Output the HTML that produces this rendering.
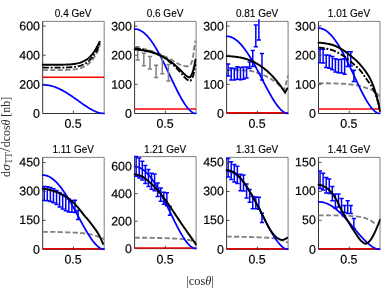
<!DOCTYPE html>
<html><head><meta charset="utf-8"><title>plot</title>
<style>html,body{margin:0;padding:0;background:#fff;overflow:hidden}svg{display:block;will-change:transform;transform:translateZ(0)}.tk{font-family:"Liberation Sans",sans-serif;font-size:12.4px;fill:#000;stroke:#000;stroke-width:0.18px}.tt{font-family:"Liberation Sans",sans-serif;font-size:10px;fill:#000;stroke:#000;stroke-width:0.12px}.ax{font-family:"Liberation Serif",serif;font-size:12.4px;fill:#2a2a2a}</style></head><body>
<svg width="382" height="288" viewBox="0 0 382 288">
<rect x="0" y="0" width="382" height="288" fill="#fff"/>
<g>
<clipPath id="c0"><rect x="41.4" y="18.4" width="63.4" height="96.3"/></clipPath>
<path d="M42.7 21.4H104.2V113.5" fill="none" stroke="#707070" stroke-width="0.9"/>
<path d="M42.7 21.4V113.5H104.2" fill="none" stroke="#343434" stroke-width="1"/>
<g clip-path="url(#c0)" fill="none" stroke-linejoin="round">
<polyline points="42.7,70.07 43.67,70.07 44.64,70.07 45.61,70.07 46.57,70.07 47.54,70.07 48.51,70.07 49.48,70.07 50.45,70.07 51.42,70.07 52.38,70.07 53.35,70.07 54.32,70.07 55.29,70.07 56.26,70.07 57.23,70.07 58.19,70.07 59.16,70.07 60.13,70.07 61.1,70.07 62.07,70.06 63.04,70.05 64,70.03 64.97,70 65.94,69.97 66.91,69.93 67.88,69.9 68.85,69.85 69.81,69.79 70.78,69.72 71.75,69.65 72.72,69.56 73.69,69.46 74.66,69.33 75.62,69.18 76.59,69 77.56,68.8 78.53,68.58 79.5,68.34 80.47,68.08 81.43,67.76 82.4,67.41 83.37,67 84.34,66.55 85.31,66.05 86.28,65.47 87.24,64.8 88.21,64.05 89.18,63.22 90.15,62.33 91.12,61.37 92.09,60.26 93.05,58.96 94.02,57.53 94.99,56.05 95.96,54.52 96.93,52.83 97.9,50.86 98.87,48.52 99.83,45.87" stroke="#808080" stroke-width="1.85" stroke-dasharray="5.1 2.4"/>
<line x1="42.7" y1="77.21" x2="104.2" y2="77.21" stroke="#ff0000" stroke-width="1.45"/>
<polyline points="42.7,84.79 43.47,84.8 44.24,84.82 45.01,84.87 45.78,84.93 46.54,85.01 47.31,85.11 48.08,85.23 48.85,85.36 49.62,85.51 50.39,85.68 51.16,85.86 51.93,86.06 52.69,86.28 53.46,86.52 54.23,86.77 55,87.04 55.77,87.32 56.54,87.62 57.31,87.94 58.08,88.26 58.84,88.61 59.61,88.97 60.38,89.34 61.15,89.72 61.92,90.12 62.69,90.53 63.46,90.96 64.23,91.39 64.99,91.84 65.76,92.29 66.53,92.76 67.3,93.24 68.07,93.73 68.84,94.22 69.61,94.73 70.38,95.24 71.14,95.76 71.91,96.28 72.68,96.81 73.45,97.35 74.22,97.89 74.99,98.43 75.76,98.98 76.53,99.53 77.29,100.08 78.06,100.63 78.83,101.19 79.6,101.74 80.37,102.29 81.14,102.84 81.91,103.38 82.68,103.92 83.44,104.46 84.21,104.99 84.98,105.52 85.75,106.03 86.52,106.54 87.29,107.04 88.06,107.53 88.83,108 89.59,108.47 90.36,108.92 91.13,109.36 91.9,109.78 92.67,110.18 93.44,110.57 94.21,110.94 94.98,111.29 95.74,111.62 96.51,111.92 97.28,112.21 98.05,112.46 98.82,112.7 99.59,112.9 100.36,113.08 101.12,113.23 101.89,113.34 102.66,113.43 103.43,113.48 104.2,113.5" stroke="#0000ff" stroke-width="1.75" stroke-linecap="round"/>
<polyline points="42.7,67.59 43.67,67.59 44.64,67.59 45.61,67.59 46.58,67.59 47.55,67.59 48.52,67.59 49.49,67.59 50.46,67.59 51.42,67.59 52.39,67.59 53.36,67.59 54.33,67.59 55.3,67.59 56.27,67.59 57.24,67.59 58.21,67.59 59.18,67.59 60.15,67.59 61.12,67.59 62.09,67.58 63.06,67.57 64.03,67.55 65,67.52 65.97,67.49 66.94,67.46 67.9,67.42 68.87,67.37 69.84,67.31 70.81,67.24 71.78,67.16 72.75,67.08 73.72,66.98 74.69,66.85 75.66,66.7 76.63,66.52 77.6,66.32 78.57,66.1 79.54,65.86 80.51,65.59 81.48,65.27 82.45,64.91 83.42,64.51 84.38,64.05 85.35,63.55 86.32,62.95 87.29,62.25 88.26,61.47 89.23,60.61 90.2,59.68 91.17,58.69 92.14,57.53 93.11,56.17 94.08,54.69 95.05,53.19 96.02,51.68 96.99,50.05 97.96,48.19 98.93,46.05 99.9,43.69" stroke="#000000" stroke-width="1.85" stroke-dasharray="6.2 1.8 1.9 1.8"/>
<polyline points="42.7,64.67 43.67,64.67 44.63,64.67 45.6,64.67 46.57,64.67 47.53,64.67 48.5,64.67 49.46,64.67 50.43,64.67 51.4,64.67 52.36,64.67 53.33,64.67 54.3,64.67 55.26,64.67 56.23,64.67 57.19,64.67 58.16,64.67 59.13,64.67 60.09,64.67 61.06,64.67 62.03,64.67 62.99,64.66 63.96,64.65 64.92,64.63 65.89,64.61 66.86,64.58 67.82,64.54 68.79,64.48 69.76,64.42 70.72,64.35 71.69,64.26 72.65,64.17 73.62,64.07 74.59,63.95 75.55,63.79 76.52,63.61 77.49,63.4 78.45,63.17 79.42,62.91 80.38,62.6 81.35,62.25 82.32,61.86 83.28,61.43 84.25,60.95 85.22,60.44 86.18,59.86 87.15,59.19 88.12,58.44 89.08,57.63 90.05,56.74 91.01,55.79 91.98,54.72 92.95,53.45 93.91,52.06 94.88,50.59 95.85,49.01 96.81,47.3 97.78,45.53 98.74,43.7 99.71,41.79" stroke="#000000" stroke-width="1.95" stroke-linejoin="miter" stroke-linecap="round"/>
</g>
<path d="M42.7 84.35h3.1M42.7 55.2h3.1M42.7 26.05h3.1M73.45 113.5v-2.9" fill="none" stroke="#404040" stroke-width="0.9"/>
<text class="tk" x="40" y="117.8" text-anchor="end" transform="rotate(0.03 40 117.8)">0</text>
<text class="tk" x="40" y="88.65" text-anchor="end" transform="rotate(0.03 40 88.65)">200</text>
<text class="tk" x="40" y="59.5" text-anchor="end" transform="rotate(0.03 40 59.5)">400</text>
<text class="tk" x="40" y="30.35" text-anchor="end" transform="rotate(0.03 40 30.35)">600</text>
<text class="tk" x="73.1" y="127.67" text-anchor="middle" transform="rotate(0.03 73.1 127.67)">0.5</text>
<text class="tt" x="73.15" y="16.8" text-anchor="middle">0.4 GeV</text>
</g>
<g>
<clipPath id="c1"><rect x="133.3" y="18.4" width="63.4" height="96.3"/></clipPath>
<path d="M134.6 21.4H196.1V113.5" fill="none" stroke="#707070" stroke-width="0.9"/>
<path d="M134.6 21.4V113.5H196.1" fill="none" stroke="#343434" stroke-width="1"/>
<g clip-path="url(#c1)" fill="none" stroke-linejoin="round">
<polyline points="134.6,47.66 135.63,47.75 136.66,47.87 137.7,48 138.73,48.14 139.76,48.3 140.79,48.47 141.82,48.66 142.86,48.85 143.89,49.06 144.92,49.27 145.95,49.49 146.98,49.72 148.02,49.96 149.05,50.23 150.08,50.52 151.11,50.83 152.14,51.16 153.18,51.51 154.21,51.87 155.24,52.25 156.27,52.63 157.3,53.03 158.33,53.43 159.37,53.84 160.4,54.27 161.43,54.73 162.46,55.21 163.49,55.71 164.53,56.23 165.56,56.76 166.59,57.3 167.62,57.85 168.65,58.4 169.69,58.94 170.72,59.49 171.75,60.03 172.78,60.6 173.81,61.2 174.85,61.83 175.88,62.45 176.91,63.05 177.94,63.62 178.97,64.14 180.01,64.59 181.04,64.95 182.07,65.3 183.1,65.64 184.13,65.94 185.17,66.17 186.2,66.29 187.23,66.26 188.26,65.99 189.29,65.52 190.33,64.83 191.36,63.2 192.39,60.14 193.42,54.68 194.45,47.24 195.48,40.67" stroke="#808080" stroke-width="1.85" stroke-dasharray="5.1 2.4"/>
<line x1="134.6" y1="108.98" x2="196.1" y2="108.98" stroke="#ff0000" stroke-width="1.45"/>
<polyline points="134.6,29.01 135.37,29.04 136.14,29.12 136.91,29.25 137.67,29.44 138.44,29.67 139.21,29.96 139.98,30.3 140.75,30.69 141.52,31.14 142.29,31.63 143.06,32.18 143.82,32.77 144.59,33.42 145.36,34.11 146.13,34.85 146.9,35.64 147.67,36.47 148.44,37.35 149.21,38.28 149.97,39.24 150.74,40.26 151.51,41.31 152.28,42.4 153.05,43.54 153.82,44.71 154.59,45.92 155.36,47.16 156.12,48.44 156.89,49.76 157.66,51.1 158.43,52.48 159.2,53.89 159.97,55.32 160.74,56.78 161.51,58.26 162.28,59.77 163.04,61.29 163.81,62.84 164.58,64.4 165.35,65.98 166.12,67.57 166.89,69.17 167.66,70.78 168.43,72.4 169.19,74.02 169.96,75.64 170.73,77.27 171.5,78.89 172.27,80.51 173.04,82.13 173.81,83.73 174.57,85.32 175.34,86.9 176.11,88.46 176.88,90 177.65,91.53 178.42,93.02 179.19,94.49 179.96,95.92 180.72,97.33 181.49,98.7 182.26,100.02 183.03,101.31 183.8,102.55 184.57,103.74 185.34,104.88 186.11,105.97 186.88,106.99 187.64,107.96 188.41,108.86 189.18,109.69 189.95,110.45 190.72,111.13 191.49,111.74 192.26,112.26 193.03,112.7 193.79,113.04 194.56,113.29 195.33,113.45 196.1,113.5" stroke="#0000ff" stroke-width="1.75" stroke-linecap="round"/>
<path d="M137.67 46.7V59.9M135.57 46.7H139.77M135.57 59.9H139.77M143.82 53.2V65.7M141.72 53.2H145.92M141.72 65.7H145.92M149.97 56.4V69M147.88 56.4H152.07M147.88 69H152.07M156.12 65.3V77.6M154.03 65.3H158.22M154.03 77.6H158.22M162.28 57V73.8M160.18 57H164.38M160.18 73.8H164.38M168.43 64.4V81.1M166.33 64.4H170.53M166.33 81.1H170.53" stroke="#808080" stroke-width="1.5"/>
<polyline points="134.6,48.24 135.63,48.36 136.66,48.5 137.7,48.65 138.73,48.82 139.76,49 140.79,49.2 141.82,49.41 142.86,49.63 143.89,49.86 144.92,50.09 145.95,50.34 146.98,50.59 148.02,50.86 149.05,51.14 150.08,51.44 151.11,51.76 152.14,52.1 153.18,52.46 154.21,52.84 155.24,53.24 156.27,53.65 157.3,54.09 158.33,54.54 159.37,55.02 160.4,55.54 161.43,56.1 162.46,56.71 163.49,57.36 164.53,58.05 165.56,58.77 166.59,59.52 167.62,60.29 168.65,61.09 169.69,61.91 170.72,62.75 171.75,63.6 172.78,64.5 173.81,65.47 174.85,66.49 175.88,67.55 176.91,68.63 177.94,69.74 178.97,70.85 180.01,71.95 181.04,73.05 182.07,74.25 183.1,75.53 184.13,76.79 185.17,77.95 186.2,78.92 187.23,79.64 188.26,80.3 189.29,80.77 190.33,80.77 191.36,79.68 192.39,77.77 193.42,75 194.45,70.18 195.48,63.97" stroke="#000000" stroke-width="1.85" stroke-dasharray="6.2 1.8 1.9 1.8"/>
<polyline points="134.6,49.41 135.63,49.48 136.66,49.57 137.7,49.67 138.73,49.79 139.76,49.93 140.79,50.08 141.82,50.24 142.86,50.41 143.89,50.59 144.92,50.78 145.95,50.97 146.98,51.17 148.02,51.38 149.05,51.62 150.08,51.88 151.11,52.15 152.14,52.45 153.18,52.76 154.21,53.1 155.24,53.45 156.27,53.81 157.3,54.2 158.33,54.6 159.37,55.01 160.4,55.46 161.43,55.94 162.46,56.47 163.49,57.02 164.53,57.61 165.56,58.23 166.59,58.88 167.62,59.55 168.65,60.24 169.69,60.95 170.72,61.67 171.75,62.41 172.78,63.19 173.81,64.04 174.85,64.93 175.88,65.86 176.91,66.81 177.94,67.78 178.97,68.75 180.01,69.72 181.04,70.68 182.07,71.72 183.1,72.83 184.13,73.92 185.17,74.93 186.2,75.78 187.23,76.41 188.26,76.99 189.29,77.35 190.33,76.97 191.36,75.19 192.39,72.76 193.42,69.56 194.45,65.05 195.48,59.6" stroke="#000000" stroke-width="1.95" stroke-linejoin="miter" stroke-linecap="round"/>
</g>
<path d="M134.6 84.37h3.1M134.6 55.23h3.1M134.6 26.1h3.1M165.35 113.5v-2.9" fill="none" stroke="#404040" stroke-width="0.9"/>
<text class="tk" x="131.9" y="117.8" text-anchor="end" transform="rotate(0.03 131.9 117.8)">0</text>
<text class="tk" x="131.9" y="88.67" text-anchor="end" transform="rotate(0.03 131.9 88.67)">100</text>
<text class="tk" x="131.9" y="59.53" text-anchor="end" transform="rotate(0.03 131.9 59.53)">200</text>
<text class="tk" x="131.9" y="30.4" text-anchor="end" transform="rotate(0.03 131.9 30.4)">300</text>
<text class="tk" x="165" y="127.67" text-anchor="middle" transform="rotate(0.03 165 127.67)">0.5</text>
<text class="tt" x="165.05" y="16.8" text-anchor="middle">0.6 GeV</text>
</g>
<g>
<clipPath id="c2"><rect x="225.3" y="18.4" width="63.4" height="96.3"/></clipPath>
<path d="M226.6 21.4H288.1V113.5" fill="none" stroke="#707070" stroke-width="0.9"/>
<path d="M226.6 21.4V113.5H288.1" fill="none" stroke="#343434" stroke-width="1"/>
<g clip-path="url(#c2)" fill="none" stroke-linejoin="round">
<polyline points="226.6,70.09 227.57,70.09 228.54,70.1 229.51,70.1 230.48,70.11 231.45,70.12 232.42,70.13 233.39,70.14 234.36,70.16 235.32,70.17 236.29,70.19 237.26,70.21 238.23,70.22 239.2,70.24 240.17,70.27 241.14,70.3 242.11,70.34 243.08,70.39 244.05,70.44 245.02,70.5 245.99,70.57 246.96,70.64 247.93,70.72 248.9,70.81 249.87,70.9 250.84,71.01 251.8,71.16 252.77,71.36 253.74,71.6 254.71,71.88 255.68,72.18 256.65,72.51 257.62,72.85 258.59,73.21 259.56,73.56 260.53,73.92 261.5,74.28 262.47,74.67 263.44,75.08 264.41,75.51 265.38,75.96 266.35,76.43 267.32,76.93 268.28,77.44 269.25,77.98 270.22,78.54 271.19,79.14 272.16,79.77 273.13,80.43 274.1,81.12 275.07,81.84 276.04,82.58 277.01,83.34 277.98,84.12 278.95,84.93 279.92,85.78 280.89,86.68 281.86,87.63 282.83,88.61 283.8,89.61 283.8,89.61 283.87,89.48 283.94,89.35 284.01,89.21 284.09,89.06 284.16,88.91 284.23,88.75 284.31,88.59 284.38,88.42 284.45,88.25 284.52,88.08 284.6,87.9 284.67,87.72 284.74,87.53 284.82,87.34 284.89,87.14 284.96,86.94 285.04,86.74 285.11,86.53 285.18,86.33 285.25,86.11 285.33,85.9 285.4,85.68 285.47,85.46 285.55,85.24 285.62,85.01 285.69,84.78 285.77,84.54 285.84,84.29 285.91,84.02 285.98,83.75 286.06,83.47 286.13,83.18 286.2,82.88 286.28,82.58 286.35,82.27 286.42,81.97 286.49,81.66 286.57,81.35 286.64,81.04 286.71,80.73 286.79,80.43 286.86,80.13 286.93,79.83 287.01,79.54 287.08,79.26 287.15,78.99 287.22,78.72 287.3,78.45 287.37,78.19 287.44,77.92 287.52,77.66 287.59,77.4 287.66,77.14 287.74,76.89 287.81,76.63 287.88,76.38 287.95,76.13 288.03,75.88 288.1,75.63" stroke="#808080" stroke-width="1.85" stroke-dasharray="5.1 2.4"/>
<line x1="226.6" y1="112.82" x2="288.1" y2="112.82" stroke="#f80000" stroke-width="1.5"/>
<polyline points="226.6,36.3 227.37,36.32 228.14,36.39 228.91,36.51 229.67,36.68 230.44,36.9 231.21,37.16 231.98,37.47 232.75,37.83 233.52,38.24 234.29,38.69 235.06,39.19 235.82,39.73 236.59,40.32 237.36,40.95 238.13,41.63 238.9,42.35 239.67,43.11 240.44,43.92 241.21,44.76 241.97,45.65 242.74,46.57 243.51,47.53 244.28,48.53 245.05,49.57 245.82,50.64 246.59,51.74 247.36,52.88 248.12,54.05 248.89,55.25 249.66,56.48 250.43,57.74 251.2,59.03 251.97,60.33 252.74,61.67 253.51,63.02 254.28,64.4 255.04,65.79 255.81,67.2 256.58,68.63 257.35,70.07 258.12,71.53 258.89,72.99 259.66,74.46 260.43,75.94 261.19,77.42 261.96,78.91 262.73,80.39 263.5,81.88 264.27,83.36 265.04,84.83 265.81,86.3 266.57,87.75 267.34,89.19 268.11,90.62 268.88,92.03 269.65,93.42 270.42,94.79 271.19,96.13 271.96,97.44 272.73,98.72 273.49,99.97 274.26,101.19 275.03,102.36 275.8,103.49 276.57,104.58 277.34,105.63 278.11,106.62 278.88,107.55 279.64,108.44 280.41,109.26 281.18,110.02 281.95,110.71 282.72,111.34 283.49,111.89 284.26,112.37 285.02,112.77 285.79,113.08 286.56,113.31 287.33,113.45 288.1,113.5" stroke="#0000ff" stroke-width="1.75" stroke-linecap="round"/>
<path d="M228.14 64V75.9M226.04 64H230.24M226.04 75.9H230.24M231.21 68V80.1M229.11 68H233.31M229.11 80.1H233.31M234.29 68.4V80.1M232.19 68.4H236.39M232.19 80.1H236.39M237.36 66.7V79.3M235.26 66.7H239.46M235.26 79.3H239.46M240.44 67.5V79.7M238.34 67.5H242.54M238.34 79.7H242.54M243.51 67.1V79.3M241.41 67.1H245.61M241.41 79.3H245.61M246.59 67.1V78M244.49 67.1H248.69M244.49 78H248.69M249.66 62V68.4M247.56 62H251.76M247.56 68.4H251.76M252.74 50.5V66.5M250.64 50.5H254.84M250.64 66.5H254.84M255.81 24.9V46.7M253.71 24.9H257.91M253.71 46.7H257.91M258.89 19.3V40M256.79 40H260.99M261.96 53.5V80M259.86 53.5H264.06M259.86 80H264.06" stroke="#0000ff" stroke-width="1.5"/>
<polyline points="226.6,56.11 227.59,56.12 228.58,56.15 229.57,56.2 230.57,56.27 231.56,56.35 232.55,56.45 233.54,56.56 234.53,56.68 235.52,56.8 236.51,56.94 237.5,57.08 238.5,57.22 239.49,57.36 240.48,57.53 241.47,57.73 242.46,57.96 243.45,58.2 244.44,58.47 245.43,58.76 246.43,59.07 247.42,59.4 248.41,59.74 249.4,60.09 250.39,60.46 251.38,60.84 252.37,61.25 253.37,61.71 254.36,62.2 255.35,62.73 256.34,63.29 257.33,63.88 258.32,64.5 259.31,65.15 260.3,65.81 261.3,66.49 262.29,67.19 263.28,67.89 264.27,68.62 265.26,69.4 266.25,70.22 267.24,71.09 268.23,71.99 269.23,72.92 270.22,73.88 271.21,74.87 272.2,75.9 273.19,76.98 274.18,78.09 275.17,79.23 276.16,80.41 277.16,81.62 278.15,82.86 279.14,84.12 280.13,85.43 281.12,86.78 282.11,88.19 283.1,89.63 284.1,91.1 285.09,92.61 285.09,92.61 285.61,91.57 286.13,90.53 286.65,89.49 287.18,88.45" stroke="#000000" stroke-width="1.95" stroke-linejoin="miter" stroke-linecap="round"/>
</g>
<path d="M226.6 84.37h3.1M226.6 55.23h3.1M226.6 26.1h3.1M257.35 113.5v-2.9" fill="none" stroke="#404040" stroke-width="0.9"/>
<text class="tk" x="223.9" y="117.8" text-anchor="end" transform="rotate(0.03 223.9 117.8)">0</text>
<text class="tk" x="223.9" y="88.67" text-anchor="end" transform="rotate(0.03 223.9 88.67)">100</text>
<text class="tk" x="223.9" y="59.53" text-anchor="end" transform="rotate(0.03 223.9 59.53)">200</text>
<text class="tk" x="223.9" y="30.4" text-anchor="end" transform="rotate(0.03 223.9 30.4)">300</text>
<text class="tk" x="257" y="127.67" text-anchor="middle" transform="rotate(0.03 257 127.67)">0.5</text>
<text class="tt" x="257.05" y="16.8" text-anchor="middle">0.81 GeV</text>
</g>
<g>
<clipPath id="c3"><rect x="317.2" y="18.4" width="63.4" height="96.3"/></clipPath>
<path d="M318.5 21.4H380V113.5" fill="none" stroke="#707070" stroke-width="0.9"/>
<path d="M318.5 21.4V113.5H380" fill="none" stroke="#343434" stroke-width="1"/>
<g clip-path="url(#c3)" fill="none" stroke-linejoin="round">
<polyline points="318.5,83.2 319.52,83.2 320.54,83.21 321.56,83.21 322.59,83.22 323.61,83.23 324.63,83.25 325.65,83.26 326.67,83.28 327.69,83.29 328.72,83.31 329.74,83.33 330.76,83.35 331.78,83.37 332.8,83.39 333.82,83.41 334.84,83.44 335.87,83.47 336.89,83.51 337.91,83.55 338.93,83.59 339.95,83.63 340.97,83.68 342,83.73 343.02,83.78 344.04,83.84 345.06,83.91 346.08,83.99 347.1,84.07 348.12,84.17 349.15,84.28 350.17,84.39 351.19,84.51 352.21,84.64 353.23,84.78 354.25,84.92 355.27,85.08 356.3,85.24 357.32,85.44 358.34,85.66 359.36,85.9 360.38,86.17 361.4,86.45 362.43,86.74 363.45,87.05 364.47,87.37 365.49,87.69 366.51,88.01 367.53,88.33 368.55,88.65 369.58,88.99 370.6,89.34 371.62,89.73 372.64,90.17 373.66,90.68 374.68,91.3 375.71,92.12 376.73,93.13 377.75,94.44 378.77,96.02 378.77,96.02 379.08,95.07 379.38,94.13 379.69,93.18 380,92.23" stroke="#808080" stroke-width="1.85" stroke-dasharray="5.1 2.4"/>
<line x1="318.5" y1="108.98" x2="380" y2="108.98" stroke="#ff0000" stroke-width="1.45"/>
<polyline points="318.5,28.14 319.27,28.17 320.04,28.25 320.81,28.38 321.57,28.57 322.34,28.8 323.11,29.1 323.88,29.44 324.65,29.84 325.42,30.29 326.19,30.79 326.96,31.34 327.73,31.94 328.49,32.59 329.26,33.29 330.03,34.04 330.8,34.83 331.57,35.67 332.34,36.56 333.11,37.5 333.88,38.48 334.64,39.5 335.41,40.56 336.18,41.67 336.95,42.81 337.72,44 338.49,45.22 339.26,46.48 340.02,47.77 340.79,49.1 341.56,50.46 342.33,51.85 343.1,53.27 343.87,54.72 344.64,56.19 345.41,57.69 346.18,59.21 346.94,60.75 347.71,62.31 348.48,63.89 349.25,65.48 350.02,67.09 350.79,68.71 351.56,70.34 352.32,71.97 353.09,73.61 353.86,75.25 354.63,76.9 355.4,78.54 356.17,80.17 356.94,81.8 357.71,83.42 358.48,85.03 359.24,86.63 360.01,88.2 360.78,89.76 361.55,91.3 362.32,92.81 363.09,94.29 363.86,95.74 364.62,97.16 365.39,98.54 366.16,99.88 366.93,101.18 367.7,102.44 368.47,103.64 369.24,104.79 370.01,105.89 370.77,106.93 371.54,107.9 372.31,108.81 373.08,109.65 373.85,110.42 374.62,111.11 375.39,111.72 376.16,112.25 376.93,112.69 377.69,113.04 378.46,113.29 379.23,113.45 380,113.5" stroke="#0000ff" stroke-width="1.75" stroke-linecap="round"/>
<path d="M320.04 49.2V62.8M317.94 49.2H322.14M317.94 62.8H322.14M323.11 49.2V63M321.01 49.2H325.21M321.01 63H325.21M326.19 55V67.4M324.09 55H328.29M324.09 67.4H328.29M329.26 55.2V68.2M327.16 55.2H331.36M327.16 68.2H331.36M332.34 56.4V69.7M330.24 56.4H334.44M330.24 69.7H334.44M335.41 58.8V72M333.31 58.8H337.51M333.31 72H337.51M338.49 59.6V72.8M336.39 59.6H340.59M336.39 72.8H340.59M341.56 59.2V72.9M339.46 59.2H343.66M339.46 72.9H343.66M344.64 58.8V74.2M342.54 58.8H346.74M342.54 74.2H346.74M347.71 51.8V66.5M345.61 51.8H349.81M345.61 66.5H349.81M350.79 51.8V66M348.69 51.8H352.89M348.69 66H352.89M353.86 70.2V81.6M351.76 70.2H355.96M351.76 81.6H355.96" stroke="#0000ff" stroke-width="1.5"/>
<polyline points="318.5,47.66 319.54,47.69 320.58,47.75 321.63,47.85 322.67,47.98 323.71,48.14 324.75,48.33 325.8,48.53 326.84,48.75 327.88,48.99 328.92,49.24 329.97,49.49 331.01,49.75 332.05,50.05 333.09,50.4 334.14,50.81 335.18,51.26 336.22,51.75 337.26,52.28 338.31,52.84 339.35,53.42 340.39,54.03 341.43,54.65 342.47,55.29 343.52,55.93 344.56,56.66 345.6,57.46 346.64,58.31 347.69,59.18 348.73,60.05 349.77,60.9 350.81,61.76 351.86,62.64 352.9,63.52 353.94,64.43 354.98,65.35 356.03,66.28 357.07,67.2 358.11,68.16 359.15,69.18 360.19,70.3 361.24,71.56 362.28,72.95 363.32,74.42 364.36,75.95 365.41,77.5 366.45,79.03 367.49,80.5 368.53,81.93 369.58,83.37 370.62,84.87 371.66,86.49 372.7,88.31 373.75,90.35 374.79,92.67 375.83,95.29 376.87,98.3 377.92,101.96 378.96,106.14 380,111.17" stroke="#000000" stroke-width="1.85" stroke-dasharray="6.2 1.8 1.9 1.8"/>
<polyline points="318.5,42.71 319.54,42.72 320.58,42.78 321.63,42.86 322.67,42.97 323.71,43.1 324.75,43.26 325.8,43.44 326.84,43.63 327.88,43.84 328.92,44.05 329.97,44.27 331.01,44.5 332.05,44.77 333.09,45.1 334.14,45.48 335.18,45.9 336.22,46.37 337.26,46.88 338.31,47.41 339.35,47.98 340.39,48.56 341.43,49.16 342.47,49.77 343.52,50.39 344.56,51.09 345.6,51.87 346.64,52.69 347.69,53.54 348.73,54.38 349.77,55.2 350.81,56.01 351.86,56.82 352.9,57.65 353.94,58.5 354.98,59.38 356.03,60.31 357.07,61.3 358.11,62.34 359.15,63.45 360.19,64.6 361.24,65.8 362.28,67.05 363.32,68.36 364.36,69.74 365.41,71.17 366.45,72.64 367.49,74.19 368.53,75.84 369.58,77.63 370.62,79.59 371.66,81.79 372.7,84.34 373.75,87.17 374.79,90.2 375.83,93.42 376.87,97.01 377.92,101.01 378.96,105.64 380,111.17" stroke="#000000" stroke-width="1.95" stroke-linejoin="miter" stroke-linecap="round"/>
</g>
<path d="M318.5 84.37h3.1M318.5 55.23h3.1M318.5 26.1h3.1M349.25 113.5v-2.9" fill="none" stroke="#404040" stroke-width="0.9"/>
<text class="tk" x="315.8" y="117.8" text-anchor="end" transform="rotate(0.03 315.8 117.8)">0</text>
<text class="tk" x="315.8" y="88.67" text-anchor="end" transform="rotate(0.03 315.8 88.67)">100</text>
<text class="tk" x="315.8" y="59.53" text-anchor="end" transform="rotate(0.03 315.8 59.53)">200</text>
<text class="tk" x="315.8" y="30.4" text-anchor="end" transform="rotate(0.03 315.8 30.4)">300</text>
<text class="tk" x="348.9" y="127.67" text-anchor="middle" transform="rotate(0.03 348.9 127.67)">0.5</text>
<text class="tt" x="348.95" y="16.8" text-anchor="middle">1.01 GeV</text>
</g>
<g>
<clipPath id="c4"><rect x="41.4" y="154.4" width="63.4" height="96.2"/></clipPath>
<path d="M42.7 157.4H104.2V249.4" fill="none" stroke="#707070" stroke-width="0.9"/>
<path d="M42.7 157.4V249.4H104.2" fill="none" stroke="#343434" stroke-width="1"/>
<g clip-path="url(#c4)" fill="none" stroke-linejoin="round">
<polyline points="42.7,231.85 43.74,231.85 44.78,231.86 45.83,231.86 46.87,231.87 47.91,231.87 48.95,231.88 50,231.89 51.04,231.9 52.08,231.92 53.12,231.93 54.17,231.94 55.21,231.95 56.25,231.97 57.29,231.99 58.34,232.02 59.38,232.05 60.42,232.08 61.46,232.12 62.51,232.15 63.55,232.19 64.59,232.23 65.63,232.27 66.67,232.31 67.72,232.35 68.76,232.39 69.8,232.43 70.84,232.47 71.89,232.51 72.93,232.55 73.97,232.6 75.01,232.65 76.06,232.7 77.1,232.76 78.14,232.82 79.18,232.89 80.23,232.96 81.27,233.05 82.31,233.15 83.35,233.27 84.39,233.4 85.44,233.54 86.48,233.69 87.52,233.85 88.56,234.03 89.61,234.22 90.65,234.44 91.69,234.69 92.73,234.97 93.78,235.27 94.82,235.58 95.86,235.89 96.9,236.22 97.95,236.56 98.99,236.93 100.03,237.31 101.07,237.71 102.12,238.14 103.16,238.6 104.2,239.08" stroke="#808080" stroke-width="1.85" stroke-dasharray="5.1 2.4"/>
<line x1="42.7" y1="248.72" x2="104.2" y2="248.72" stroke="#e80000" stroke-width="1.5"/>
<polyline points="42.7,175.08 43.47,175.1 44.24,175.17 45.01,175.29 45.78,175.45 46.54,175.66 47.31,175.91 48.08,176.21 48.85,176.56 49.62,176.95 50.39,177.38 51.16,177.86 51.93,178.38 52.69,178.95 53.46,179.56 54.23,180.21 55,180.9 55.77,181.63 56.54,182.41 57.31,183.22 58.08,184.07 58.84,184.96 59.61,185.88 60.38,186.84 61.15,187.84 61.92,188.87 62.69,189.93 63.46,191.03 64.23,192.15 64.99,193.3 65.76,194.49 66.53,195.7 67.3,196.93 68.07,198.19 68.84,199.47 69.61,200.77 70.38,202.1 71.14,203.44 71.91,204.79 72.68,206.17 73.45,207.55 74.22,208.95 74.99,210.36 75.76,211.77 76.53,213.19 77.29,214.62 78.06,216.05 78.83,217.47 79.6,218.9 80.37,220.32 81.14,221.74 81.91,223.15 82.68,224.55 83.44,225.93 84.21,227.31 84.98,228.66 85.75,230 86.52,231.31 87.29,232.6 88.06,233.86 88.83,235.09 89.59,236.3 90.36,237.46 91.13,238.59 91.9,239.68 92.67,240.73 93.44,241.73 94.21,242.68 94.98,243.58 95.74,244.43 96.51,245.22 97.28,245.95 98.05,246.62 98.82,247.22 99.59,247.75 100.36,248.21 101.12,248.59 101.89,248.9 102.66,249.12 103.43,249.25 104.2,249.3" stroke="#0000ff" stroke-width="1.75" stroke-linecap="round"/>
<path d="M44.24 186.5V200.4M42.14 186.5H46.34M42.14 200.4H46.34M47.31 186.8V200.8M45.21 186.8H49.41M45.21 200.8H49.41M50.39 187.5V201.5M48.29 187.5H52.49M48.29 201.5H52.49M53.46 188.8V202.7M51.36 188.8H55.56M51.36 202.7H55.56M56.54 190.6V204.4M54.44 190.6H58.64M54.44 204.4H58.64M59.61 192.6V206.9M57.51 192.6H61.71M57.51 206.9H61.71M62.69 194.6V209M60.59 194.6H64.79M60.59 209H64.79M65.76 196.5V210.7M63.66 196.5H67.86M63.66 210.7H67.86M68.84 199V211.9M66.74 199H70.94M66.74 211.9H70.94M71.91 200.4V212.3M69.81 200.4H74.01M69.81 212.3H74.01M74.99 200.2V212.6M72.89 200.2H77.09M72.89 212.6H77.09M78.06 210.5V219.5M75.96 210.5H80.16M75.96 219.5H80.16" stroke="#0000ff" stroke-width="1.5"/>
<polyline points="42.7,188.77 43.72,188.86 44.75,188.99 45.77,189.15 46.79,189.33 47.81,189.54 48.84,189.77 49.86,190.01 50.88,190.28 51.9,190.56 52.93,190.85 53.95,191.15 54.97,191.46 55.99,191.79 57.02,192.17 58.04,192.58 59.06,193.03 60.08,193.52 61.11,194.03 62.13,194.57 63.15,195.14 64.17,195.73 65.2,196.34 66.22,196.96 67.24,197.61 68.26,198.32 69.29,199.09 70.31,199.9 71.33,200.76 72.35,201.65 73.38,202.58 74.4,203.57 75.42,204.65 76.44,205.79 77.47,206.97 78.49,208.16 79.51,209.39 80.54,210.67 81.56,211.97 82.58,213.29 83.6,214.58 84.63,215.84 85.65,217.04 86.67,218.22 87.69,219.41 88.72,220.63 89.74,221.91 90.76,223.23 91.78,224.57 92.81,225.93 93.83,227.29 94.85,228.66 95.87,230.1 96.9,231.63 97.92,233.24 98.94,234.99 99.96,236.94 100.99,239.08 102.01,241.4 103.03,243.9" stroke="#000000" stroke-width="1.95" stroke-linejoin="miter" stroke-linecap="round"/>
</g>
<path d="M42.7 220.38h3.1M42.7 191.47h3.1M42.7 162.55h3.1M73.45 249.4v-2.9" fill="none" stroke="#404040" stroke-width="0.9"/>
<text class="tk" x="40" y="253.75" text-anchor="end" transform="rotate(0.03 40 253.75)">0</text>
<text class="tk" x="40" y="224.13" text-anchor="end" transform="rotate(0.03 40 224.13)">150</text>
<text class="tk" x="40" y="195.22" text-anchor="end" transform="rotate(0.03 40 195.22)">300</text>
<text class="tk" x="40" y="166.3" text-anchor="end" transform="rotate(0.03 40 166.3)">450</text>
<text class="tk" x="73.1" y="263.57" text-anchor="middle" transform="rotate(0.03 73.1 263.57)">0.5</text>
<text class="tt" x="73.15" y="152.7" text-anchor="middle">1.11 GeV</text>
</g>
<g>
<clipPath id="c5"><rect x="133.3" y="153.6" width="63.4" height="96.2"/></clipPath>
<path d="M134.6 156.6H196.1V248.6" fill="none" stroke="#707070" stroke-width="0.9"/>
<path d="M134.6 156.6V248.6H196.1" fill="none" stroke="#343434" stroke-width="1"/>
<g clip-path="url(#c5)" fill="none" stroke-linejoin="round">
<polyline points="134.6,237.7 135.64,237.7 136.68,237.7 137.73,237.71 138.77,237.71 139.81,237.72 140.85,237.72 141.9,237.73 142.94,237.74 143.98,237.74 145.02,237.75 146.07,237.76 147.11,237.77 148.15,237.78 149.19,237.79 150.24,237.81 151.28,237.82 152.32,237.84 153.36,237.86 154.41,237.88 155.45,237.9 156.49,237.92 157.53,237.94 158.57,237.96 159.62,237.98 160.66,238.01 161.7,238.04 162.74,238.07 163.79,238.1 164.83,238.13 165.87,238.17 166.91,238.2 167.96,238.24 169,238.28 170.04,238.33 171.08,238.37 172.13,238.42 173.17,238.46 174.21,238.52 175.25,238.57 176.29,238.63 177.34,238.69 178.38,238.76 179.42,238.84 180.46,238.92 181.51,239 182.55,239.1 183.59,239.2 184.63,239.32 185.68,239.46 186.72,239.6 187.76,239.77 188.8,239.97 189.85,240.24 190.89,240.56 191.93,240.91 192.97,241.26 194.02,241.61 195.06,241.98 196.1,242.38" stroke="#808080" stroke-width="1.85" stroke-dasharray="5.1 2.4"/>
<line x1="134.6" y1="247.92" x2="196.1" y2="247.92" stroke="#e80000" stroke-width="1.5"/>
<polyline points="134.6,166.61 135.37,166.64 136.14,166.72 136.91,166.84 137.67,167.02 138.44,167.25 139.21,167.53 139.98,167.86 140.75,168.25 141.52,168.68 142.29,169.16 143.06,169.69 143.82,170.26 144.59,170.89 145.36,171.56 146.13,172.28 146.9,173.05 147.67,173.86 148.44,174.71 149.21,175.61 149.97,176.55 150.74,177.54 151.51,178.56 152.28,179.62 153.05,180.72 153.82,181.86 154.59,183.04 155.36,184.25 156.12,185.49 156.89,186.77 157.66,188.08 158.43,189.41 159.2,190.78 159.97,192.17 160.74,193.59 161.51,195.03 162.28,196.49 163.04,197.97 163.81,199.48 164.58,200.99 165.35,202.53 166.12,204.07 166.89,205.63 167.66,207.19 168.43,208.76 169.19,210.34 169.96,211.92 170.73,213.5 171.5,215.08 172.27,216.65 173.04,218.22 173.81,219.78 174.57,221.32 175.34,222.86 176.11,224.37 176.88,225.87 177.65,227.35 178.42,228.8 179.19,230.23 179.96,231.62 180.72,232.99 181.49,234.32 182.26,235.61 183.03,236.86 183.8,238.06 184.57,239.22 185.34,240.33 186.11,241.38 186.88,242.38 187.64,243.32 188.41,244.19 189.18,245 189.95,245.74 190.72,246.4 191.49,246.99 192.26,247.5 193.03,247.92 193.79,248.26 194.56,248.5 195.33,248.65 196.1,248.7" stroke="#0000ff" stroke-width="1.75" stroke-linecap="round"/>
<path d="M136.14 156.6V176.3M134.04 156.6H138.24M134.04 176.3H138.24M139.21 157.9V178M137.11 157.9H141.31M137.11 178H141.31M142.29 161.3V180M140.19 161.3H144.39M140.19 180H144.39M145.36 165.6V183.5M143.26 165.6H147.46M143.26 183.5H147.46M148.44 169.4V186.5M146.34 169.4H150.54M146.34 186.5H150.54M151.51 173.3V189.3M149.41 173.3H153.61M149.41 189.3H153.61M154.59 173.9V190.7M152.49 173.9H156.69M152.49 190.7H156.69M157.66 183V196.5M155.56 183H159.76M155.56 196.5H159.76M160.74 188V201.3M158.64 188H162.84M158.64 201.3H162.84M163.81 192.2V204.3M161.71 192.2H165.91M161.71 204.3H165.91M166.89 192.8V205.8M164.79 192.8H168.99M164.79 205.8H168.99M169.96 206.5V215.3M167.86 206.5H172.06M167.86 215.3H172.06" stroke="#0000ff" stroke-width="1.5"/>
<polyline points="134.6,174.31 135.64,174.41 136.68,174.59 137.73,174.84 138.77,175.15 139.81,175.5 140.85,175.86 141.9,176.32 142.94,176.92 143.98,177.61 145.02,178.39 146.07,179.24 147.11,180.11 148.15,181 149.19,181.88 150.24,182.78 151.28,183.73 152.32,184.72 153.36,185.75 154.41,186.82 155.45,187.91 156.49,189.04 157.53,190.19 158.57,191.35 159.62,192.56 160.66,193.81 161.7,195.1 162.74,196.44 163.79,197.8 164.83,199.19 165.87,200.6 166.91,202.07 167.96,203.57 169,205.11 170.04,206.66 171.08,208.21 172.13,209.75 173.17,211.29 174.21,212.85 175.25,214.41 176.29,215.97 177.34,217.54 178.38,219.1 179.42,220.65 180.46,222.19 181.51,223.72 182.55,225.25 183.59,226.78 184.63,228.29 185.68,229.8 186.72,231.29 187.76,232.76 188.8,234.21 189.85,235.65 190.89,237.1 191.93,238.58 192.97,240.13 194.02,241.69 195.06,243.18 196.1,244.57" stroke="#000000" stroke-width="1.95" stroke-linejoin="miter" stroke-linecap="round"/>
</g>
<path d="M134.6 221.2h3.1M134.6 193.7h3.1M134.6 166.2h3.1M165.35 248.6v-2.9" fill="none" stroke="#404040" stroke-width="0.9"/>
<text class="tk" x="131.9" y="252.9" text-anchor="end" transform="rotate(0.03 131.9 252.9)">0</text>
<text class="tk" x="131.9" y="225.4" text-anchor="end" transform="rotate(0.03 131.9 225.4)">200</text>
<text class="tk" x="131.9" y="197.9" text-anchor="end" transform="rotate(0.03 131.9 197.9)">400</text>
<text class="tk" x="131.9" y="170.4" text-anchor="end" transform="rotate(0.03 131.9 170.4)">600</text>
<text class="tk" x="165" y="263.57" text-anchor="middle" transform="rotate(0.03 165 263.57)">0.5</text>
<text class="tt" x="165.05" y="153.4" text-anchor="middle">1.21 GeV</text>
</g>
<g>
<clipPath id="c6"><rect x="225.3" y="154.4" width="63.4" height="96.2"/></clipPath>
<path d="M226.6 157.4H288.1V249.4" fill="none" stroke="#707070" stroke-width="0.9"/>
<path d="M226.6 157.4V249.4H288.1" fill="none" stroke="#343434" stroke-width="1"/>
<g clip-path="url(#c6)" fill="none" stroke-linejoin="round">
<polyline points="226.6,236.67 227.64,236.67 228.68,236.68 229.73,236.68 230.77,236.69 231.81,236.7 232.85,236.7 233.9,236.71 234.94,236.72 235.98,236.74 237.02,236.75 238.07,236.76 239.11,236.77 240.15,236.79 241.19,236.8 242.24,236.82 243.28,236.85 244.32,236.87 245.36,236.89 246.41,236.92 247.45,236.95 248.49,236.98 249.53,237.01 250.57,237.04 251.62,237.07 252.66,237.1 253.7,237.14 254.74,237.17 255.79,237.21 256.83,237.25 257.87,237.29 258.91,237.33 259.96,237.38 261,237.42 262.04,237.47 263.08,237.52 264.13,237.57 265.17,237.62 266.21,237.67 267.25,237.73 268.29,237.78 269.34,237.85 270.38,237.92 271.42,238 272.46,238.09 273.51,238.21 274.55,238.37 275.59,238.56 276.63,238.78 277.68,239.03 278.72,239.29 279.76,239.57 280.8,239.86 281.85,240.2 282.89,240.57 283.93,240.97 284.97,241.38 286.02,241.8 287.06,242.26 288.1,242.75" stroke="#808080" stroke-width="1.85" stroke-dasharray="5.1 2.4"/>
<line x1="226.6" y1="248.72" x2="288.1" y2="248.72" stroke="#e80000" stroke-width="1.5"/>
<polyline points="226.6,171.03 227.37,171.06 228.14,171.13 228.91,171.25 229.67,171.42 230.44,171.64 231.21,171.91 231.98,172.23 232.75,172.59 233.52,173 234.29,173.46 235.06,173.96 235.82,174.51 236.59,175.11 237.36,175.75 238.13,176.44 238.9,177.17 239.67,177.94 240.44,178.76 241.21,179.61 241.97,180.51 242.74,181.45 243.51,182.42 244.28,183.44 245.05,184.49 245.82,185.57 246.59,186.69 247.36,187.85 248.12,189.03 248.89,190.25 249.66,191.5 250.43,192.77 251.2,194.07 251.97,195.4 252.74,196.75 253.51,198.13 254.28,199.52 255.04,200.93 255.81,202.37 256.58,203.81 257.35,205.27 258.12,206.75 258.89,208.23 259.66,209.72 260.43,211.22 261.19,212.73 261.96,214.23 262.73,215.74 263.5,217.24 264.27,218.74 265.04,220.24 265.81,221.72 266.57,223.2 267.34,224.66 268.11,226.11 268.88,227.53 269.65,228.94 270.42,230.33 271.19,231.69 271.96,233.02 272.73,234.32 273.49,235.59 274.26,236.82 275.03,238.01 275.8,239.16 276.57,240.26 277.34,241.32 278.11,242.32 278.88,243.27 279.64,244.17 280.41,245 281.18,245.77 281.95,246.47 282.72,247.11 283.49,247.67 284.26,248.15 285.02,248.56 285.79,248.88 286.56,249.11 287.33,249.25 288.1,249.3" stroke="#0000ff" stroke-width="1.75" stroke-linecap="round"/>
<path d="M228.14 158.4V177M226.04 158.4H230.24M226.04 177H230.24M231.21 161.8V179.6M229.11 161.8H233.31M229.11 179.6H233.31M234.29 164.6V182M232.19 164.6H236.39M232.19 182H236.39M237.36 166.3V183.4M235.26 166.3H239.46M235.26 183.4H239.46M240.44 174.2V190.7M238.34 174.2H242.54M238.34 190.7H242.54M243.51 174.9V191.1M241.41 174.9H245.61M241.41 191.1H245.61M246.59 184V198M244.49 184H248.69M244.49 198H248.69M249.66 189.6V202.2M247.56 189.6H251.76M247.56 202.2H251.76M252.74 196.5V208.8M250.64 196.5H254.84M250.64 208.8H254.84M255.81 197V208.8M253.71 197H257.91M253.71 208.8H257.91M258.89 197.3V209.2M256.79 197.3H260.99M256.79 209.2H260.99M261.96 213.2V222.5M259.86 213.2H264.06M259.86 222.5H264.06" stroke="#0000ff" stroke-width="1.5"/>
<polyline points="226.6,170.07 227.63,170.15 228.65,170.33 229.68,170.6 230.71,170.93 231.73,171.31 232.76,171.71 233.79,172.2 234.81,172.85 235.84,173.62 236.87,174.5 237.89,175.47 238.92,176.51 239.95,177.58 240.97,178.69 242,179.86 243.03,181.16 244.05,182.58 245.08,184.1 246.11,185.69 247.13,187.34 248.16,189.02 249.19,190.72 250.21,192.41 251.24,194.11 252.27,195.87 253.3,197.69 254.32,199.54 255.35,201.43 256.38,203.34 257.4,205.25 258.43,207.19 259.46,209.16 260.48,211.16 261.51,213.18 262.54,215.21 263.56,217.23 264.59,219.3 265.62,221.38 266.64,223.37 267.67,225.27 268.7,227.16 269.72,228.98 270.75,230.67 271.78,232.17 272.8,233.48 273.83,234.73 274.86,235.88 275.88,236.89 276.91,237.71 277.94,238.34 278.96,238.93 279.99,239.43 281.02,239.76 282.04,239.85 283.07,239.75 284.1,239.54 285.12,239.21 286.15,238.57 287.18,237.73" stroke="#000000" stroke-width="1.95" stroke-linejoin="miter" stroke-linecap="round"/>
</g>
<path d="M226.6 220.38h3.1M226.6 191.47h3.1M226.6 162.55h3.1M257.35 249.4v-2.9" fill="none" stroke="#404040" stroke-width="0.9"/>
<text class="tk" x="223.9" y="253.75" text-anchor="end" transform="rotate(0.03 223.9 253.75)">0</text>
<text class="tk" x="223.9" y="224.13" text-anchor="end" transform="rotate(0.03 223.9 224.13)">150</text>
<text class="tk" x="223.9" y="195.22" text-anchor="end" transform="rotate(0.03 223.9 195.22)">300</text>
<text class="tk" x="223.9" y="166.3" text-anchor="end" transform="rotate(0.03 223.9 166.3)">450</text>
<text class="tk" x="257" y="263.57" text-anchor="middle" transform="rotate(0.03 257 263.57)">0.5</text>
<text class="tt" x="257.05" y="152.7" text-anchor="middle">1.31 GeV</text>
</g>
<g>
<clipPath id="c7"><rect x="317.2" y="154.4" width="63.4" height="96.2"/></clipPath>
<path d="M318.5 157.4H380V249.4" fill="none" stroke="#707070" stroke-width="0.9"/>
<path d="M318.5 157.4V249.4H380" fill="none" stroke="#343434" stroke-width="1"/>
<g clip-path="url(#c7)" fill="none" stroke-linejoin="round">
<polyline points="318.5,215.41 319.47,215.41 320.45,215.41 321.42,215.41 322.4,215.41 323.37,215.41 324.35,215.41 325.32,215.41 326.3,215.41 327.27,215.41 328.25,215.41 329.22,215.41 330.2,215.41 331.17,215.41 332.14,215.41 333.12,215.42 334.09,215.42 335.07,215.43 336.04,215.45 337.02,215.46 337.99,215.48 338.97,215.49 339.94,215.51 340.92,215.53 341.89,215.56 342.87,215.58 343.84,215.6 344.81,215.64 345.79,215.68 346.76,215.73 347.74,215.79 348.71,215.85 349.69,215.91 350.66,215.98 351.64,216.05 352.61,216.13 353.59,216.2 354.56,216.28 355.54,216.37 356.51,216.46 357.48,216.57 358.46,216.68 359.43,216.81 360.41,216.95 361.38,217.1 362.36,217.29 363.33,217.53 364.31,217.82 365.28,218.14 366.26,218.49 367.23,218.88 368.21,219.29 369.18,219.72 370.15,220.23 371.13,220.82 372.1,221.48 373.08,222.19 374.05,222.94 375.03,223.74 376,224.68" stroke="#808080" stroke-width="1.85" stroke-dasharray="5.1 2.4"/>
<line x1="318.5" y1="248.72" x2="380" y2="248.72" stroke="#e80000" stroke-width="1.5"/>
<polyline points="318.5,201.79 319.27,201.81 320.04,201.85 320.81,201.93 321.57,202.03 322.34,202.17 323.11,202.33 323.88,202.52 324.65,202.74 325.42,202.99 326.19,203.27 326.96,203.57 327.73,203.91 328.49,204.27 329.26,204.66 330.03,205.08 330.8,205.52 331.57,205.99 332.34,206.48 333.11,207 333.88,207.55 334.64,208.12 335.41,208.71 336.18,209.32 336.95,209.96 337.72,210.62 338.49,211.3 339.26,212 340.02,212.72 340.79,213.46 341.56,214.22 342.33,214.99 343.1,215.78 343.87,216.59 344.64,217.41 345.41,218.24 346.18,219.09 346.94,219.94 347.71,220.81 348.48,221.69 349.25,222.58 350.02,223.47 350.79,224.37 351.56,225.28 352.32,226.19 353.09,227.1 353.86,228.01 354.63,228.93 355.4,229.84 356.17,230.75 356.94,231.66 357.71,232.56 358.48,233.46 359.24,234.34 360.01,235.22 360.78,236.09 361.55,236.94 362.32,237.78 363.09,238.61 363.86,239.42 364.62,240.21 365.39,240.98 366.16,241.72 366.93,242.45 367.7,243.14 368.47,243.81 369.24,244.45 370.01,245.06 370.77,245.64 371.54,246.18 372.31,246.69 373.08,247.16 373.85,247.59 374.62,247.97 375.39,248.31 376.16,248.6 376.93,248.85 377.69,249.04 378.46,249.18 379.23,249.27 380,249.3" stroke="#0000ff" stroke-width="1.75" stroke-linecap="round"/>
<path d="M320.04 170.9V188.5M317.94 170.9H322.14M317.94 188.5H322.14M323.11 173.3V190M321.01 173.3H325.21M321.01 190H325.21M326.19 177.4V193M324.09 177.4H328.29M324.09 193H328.29M329.26 178.9V193.4M327.16 178.9H331.36M327.16 193.4H331.36M332.34 186.5V200.8M330.24 186.5H334.44M330.24 200.8H334.44M335.41 194V208.3M333.31 194H337.51M333.31 208.3H337.51M338.49 194V207M336.39 194H340.59M336.39 207H340.59M341.56 198.4V212M339.46 198.4H343.66M339.46 212H343.66M344.64 205.5V212.5M342.54 205.5H346.74M342.54 212.5H346.74M347.71 200.8V213.5M345.61 200.8H349.81M345.61 213.5H349.81M350.79 205.4V213.5M348.69 205.4H352.89M348.69 213.5H352.89M353.86 218.4V228.5M351.76 218.4H355.96M351.76 228.5H355.96" stroke="#0000ff" stroke-width="1.5"/>
<polyline points="318.5,184.7 319.54,184.79 320.58,185.01 321.63,185.35 322.67,185.78 323.71,186.3 324.75,186.88 325.8,187.52 326.84,188.18 327.88,188.86 328.92,189.68 329.97,190.67 331.01,191.84 332.05,193.14 333.09,194.57 334.14,196.11 335.18,197.74 336.22,199.42 337.26,201.19 338.31,203.37 339.35,205.77 340.39,208.04 341.43,210.03 342.47,211.94 343.52,213.78 344.56,215.57 345.6,217.34 346.64,219.1 347.69,220.85 348.73,222.6 349.77,224.32 350.81,226.03 351.86,227.7 352.9,229.33 353.94,230.93 354.98,232.47 356.03,233.99 357.07,235.55 358.11,237.08 359.15,238.54 360.19,239.84 361.24,240.92 362.28,241.81 363.32,242.68 364.36,243.36 365.41,243.68 366.45,243.5 367.49,242.92 368.53,242.09 369.58,241.16 370.62,239.94 371.66,238.3 372.7,236.41 373.75,234.43 374.79,232.38 375.83,230.12 376.87,227.71 377.92,225.22 378.96,222.56 380,219.75" stroke="#000000" stroke-width="1.95" stroke-linejoin="miter" stroke-linecap="round"/>
</g>
<path d="M318.5 220.33h3.1M318.5 191.37h3.1M318.5 162.4h3.1M349.25 249.4v-2.9" fill="none" stroke="#404040" stroke-width="0.9"/>
<text class="tk" x="315.8" y="253.75" text-anchor="end" transform="rotate(0.03 315.8 253.75)">0</text>
<text class="tk" x="315.8" y="224.08" text-anchor="end" transform="rotate(0.03 315.8 224.08)">50</text>
<text class="tk" x="315.8" y="195.12" text-anchor="end" transform="rotate(0.03 315.8 195.12)">100</text>
<text class="tk" x="315.8" y="166.15" text-anchor="end" transform="rotate(0.03 315.8 166.15)">150</text>
<text class="tk" x="348.9" y="263.57" text-anchor="middle" transform="rotate(0.03 348.9 263.57)">0.5</text>
<text class="tt" x="348.95" y="152.7" text-anchor="middle">1.41 GeV</text>
</g>
<text class="ax" style="font-size:11.9px" transform="translate(9.6,177.0) rotate(-90)" text-anchor="start">d<tspan font-style="italic" dx="0.2" font-size="13.4px">σ</tspan><tspan font-size="9.6px" dy="2.4" dx="0.3">TT</tspan><tspan dy="-1.6" dx="0.4" font-size="14.5px">/</tspan><tspan dy="-0.8" dx="0.5">dcos</tspan><tspan font-style="italic">θ</tspan> [nb]</text>
<text class="ax" x="200" y="285" text-anchor="middle">|cos<tspan font-style="italic">θ</tspan>|</text>
</svg></body></html>
